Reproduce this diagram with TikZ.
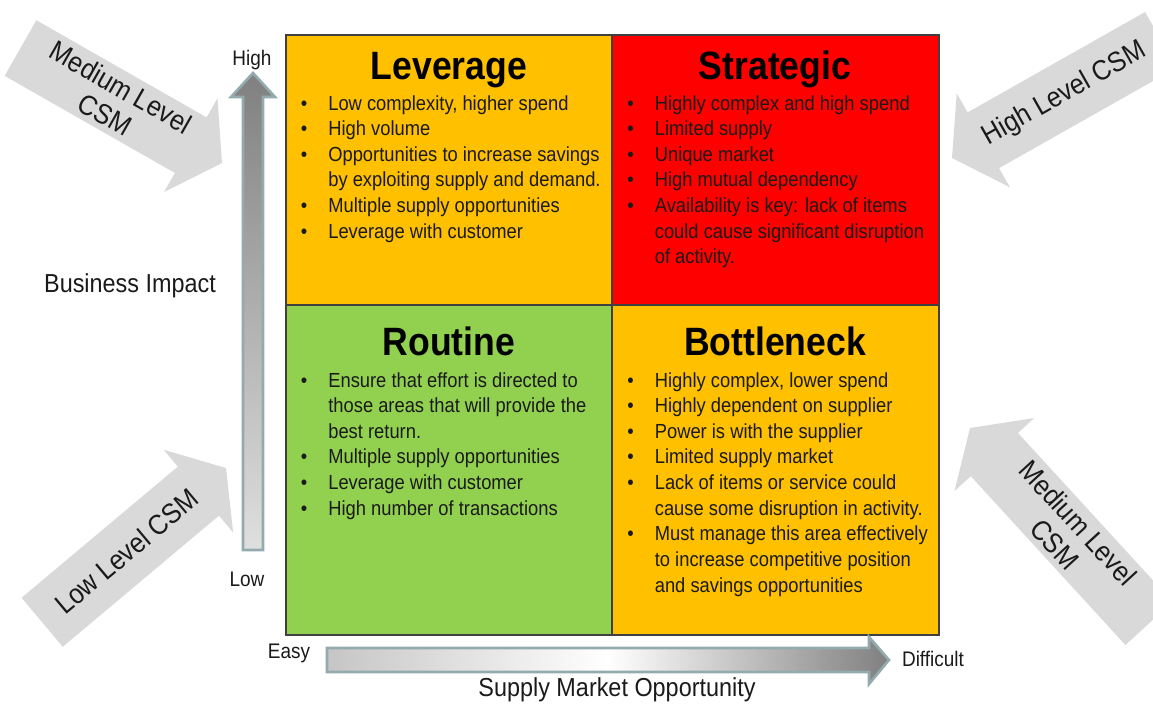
\documentclass[tikz,border=0pt]{standalone}
\usepackage{fontspec}
\setmainfont{Liberation Sans}[FakeStretch=0.9]
\usepackage{tikz}

\definecolor{levcol}{HTML}{FFC000}
\definecolor{strcol}{HTML}{FF0000}
\definecolor{roucol}{HTML}{92D050}
\definecolor{csmgray}{HTML}{D9D9D9}
\definecolor{axisedge}{HTML}{93ABAF}
\definecolor{inkcol}{HTML}{1A1A1A}

\tikzset{
  quad/.style={draw=black!75, line width=0.8pt},
  title/.style={font=\fontsize{22.5}{24}\selectfont\bfseries, anchor=base, inner sep=0pt},
  items/.style={font=\fontsize{11.6}{14.6}\selectfont, anchor=base west, inner sep=0pt, text=inkcol},
  axislabel/.style={font=\fontsize{14.8}{16}\selectfont, text=inkcol},
  endlabel/.style={font=\fontsize{12}{13}\selectfont, text=inkcol},
  csmlabel/.style={font=\fontsize{16}{18}\selectfont, align=center, text=inkcol},
  axisarrow/.style={draw=axisedge, line width=1.5pt, line join=miter}
}

\begin{document}
\begin{tikzpicture}[x=0.02cm, y=0.02cm]

\useasboundingbox (0,0) rectangle (1153,708);

% grey CSM arrows
\foreach \tx/\ty/\ang/\len/\rot/\lab [count=\i] in {
    222/545/-29.7/232/-29.7/{Medium Level\\CSM},
    952/550/209.5/240/29.5/{High Level CSM},
    226/240/40/240/40/{Low Level CSM},
    970/280/132.5/265/-47.5/{Medium Level\\CSM}}
{
  \begin{scope}[shift={(\tx,\ty)}, rotate=\ang]
    \fill[csmgray] (0,0) -- (-36,54) -- (-36,32) -- (-\len,32) -- (-\len,-32) -- (-36,-32) -- (-36,-54) -- cycle;
    \node[csmlabel, rotate=\rot] (csm\i) at ({-0.54*\len},0) {\lab};
  \end{scope}
}

% quadrants
\draw[quad, fill=levcol] (286,403) rectangle (612,673);
\draw[quad, fill=strcol] (612,403) rectangle (939,673);
\draw[quad, fill=roucol] (286,73) rectangle (612,403);
\draw[quad, fill=levcol] (612,73) rectangle (939,403);

\node[title] (lev) at (449,628) {Leverage};
\node[title] (str) at (775,628) {Strategic};
\node[title] (rou) at (449,353) {Routine};
\node[title] (bot) at (775,353) {Bottleneck};

\node[items] (levlist) at (300.5,598) {\begin{tabular}[t]{@{}p{0.55cm}@{}l@{}}
\textbullet & Low complexity, higher spend\\
\textbullet & High volume\\
\textbullet & Opportunities to increase savings\\
 & by exploiting supply and demand.\\
\textbullet & Multiple supply opportunities\\
\textbullet & Leverage with customer
\end{tabular}};

\node[items] (strlist) at (627,598) {\begin{tabular}[t]{@{}p{0.55cm}@{}l@{}}
\textbullet & Highly complex and high spend\\
\textbullet & Limited supply\\
\textbullet & Unique market\\
\textbullet & High mutual dependency\\
\textbullet & Availability is key: lack of items\\
 & could cause significant disruption\\
 & of activity.
\end{tabular}};

\node[items] (roulist) at (300.5,321) {\begin{tabular}[t]{@{}p{0.55cm}@{}l@{}}
\textbullet & Ensure that effort is directed to\\
 & those areas that will provide the\\
 & best return.\\
\textbullet & Multiple supply opportunities\\
\textbullet & Leverage with customer\\
\textbullet & High number of transactions
\end{tabular}};

\node[items] (botlist) at (627,321) {\begin{tabular}[t]{@{}p{0.55cm}@{}l@{}}
\textbullet & Highly complex, lower spend\\
\textbullet & Highly dependent on supplier\\
\textbullet & Power is with the supplier\\
\textbullet & Limited supply market\\
\textbullet & Lack of items or service could\\
 & cause some disruption in activity.\\
\textbullet & Must manage this area effectively\\
 & to increase competitive position\\
 & and savings opportunities
\end{tabular}};

% axes
\draw[axisarrow, top color=gray, bottom color=gray!25]
  (243,158) -- (243,611) -- (231,611) -- (253,635) -- (275,611) -- (263,611) -- (263,158) -- cycle;
\draw[axisarrow, left color=gray!45, right color=gray, middle color=white]
  (327,36) -- (327,60) -- (869,60) -- (869,71) -- (889,48) -- (869,24) -- (869,36) -- cycle;

\node[endlabel] (high) at (252,648) {High};
\node[endlabel] (low) at (247,129) {Low};
\node[endlabel] (easy) at (289,55) {Easy};
\node[endlabel] (diff) at (933,49) {Difficult};
\node[axislabel] (impact) at (130,422) {Business Impact};
\node[axislabel] (supply) at (617,18) {Supply Market Opportunity};

\end{tikzpicture}
\end{document}
